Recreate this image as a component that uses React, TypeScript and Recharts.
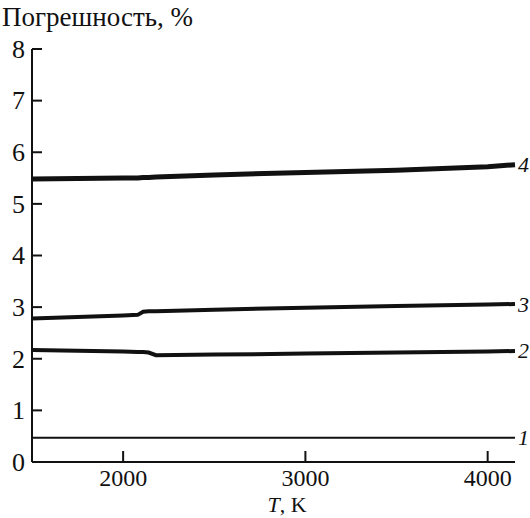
import * as React from 'react';
import { LineChart, Line, XAxis, YAxis, LabelList } from 'recharts';

// температура, K
const temps = [1500, 2000, 2080, 2110, 2140, 2180, 2500, 3000, 3500, 4000, 4150];
// погрешность, % (кривые 1–4)
const err1 = [0.47, 0.47, 0.47, 0.47, 0.47, 0.47, 0.47, 0.47, 0.47, 0.47, 0.47];
const err2 = [2.17, 2.14, 2.13, 2.13, 2.12, 2.07, 2.08, 2.1, 2.12, 2.14, 2.15];
const err3 = [2.78, 2.84, 2.85, 2.91, 2.92, 2.92, 2.95, 2.99, 3.02, 3.05, 3.06];
const err4 = [5.48, 5.5, 5.5, 5.51, 5.51, 5.52, 5.56, 5.61, 5.65, 5.72, 5.76];
const xTicks = [2000, 3000, 4000];
const yTicks = [0, 1, 2, 3, 4, 5, 6, 7, 8];

const data = temps.map((t, i) => ({ t, e1: err1[i], e2: err2[i], e3: err3[i], e4: err4[i] }));

const FONT = 'Liberation Serif, Times New Roman, serif';

const YTick = (props: any) => {
  const { x, y, payload } = props;
  return (
    <g>
      {payload.value !== 0 && <line x1={x + 7} y1={y} x2={x + 17} y2={y} stroke="#111" strokeWidth={2} />}
      <text x={x} y={y} dy="0.34em" textAnchor="end" fontSize={26} fontFamily={FONT} fill="#111">
        {payload.value}
      </text>
    </g>
  );
};

const XTick = (props: any) => {
  const { x, y, payload } = props;
  return (
    <g>
      <line x1={x} y1={y} x2={x} y2={y - 11} stroke="#111" strokeWidth={2} />
      <text x={x} y={y + 24} textAnchor="middle" fontSize={24} fontFamily={FONT} fill="#111">
        {payload.value}
      </text>
    </g>
  );
};

const endLabel = (name: string) => (props: any) => {
  const { x, y, index } = props;
  if (index !== data.length - 1) return null;
  return (
    <text x={x + 3} y={y} dy="0.34em" fontSize={22} fontStyle="italic" fontFamily={FONT} fill="#111">
      {name}
    </text>
  );
};

export default function App() {
  return (
    <div style={{ position: 'absolute', left: 0, top: 0, width: 530, height: 518, background: '#fff' }}>
      <LineChart width={530} height={518} data={data} margin={{ top: 49, right: 15, bottom: 55, left: 31 }}>
        <XAxis
          dataKey="t"
          type="number"
          domain={[1500, 4150]}
          ticks={xTicks}
          height={1}
          tickSize={0}
          tickMargin={0}
          tickLine={false}
          tick={<XTick />}
          axisLine={{ stroke: '#111', strokeWidth: 2 }}
        />
        <YAxis
          type="number"
          domain={[0, 8]}
          ticks={yTicks}
          width={1}
          tickSize={0}
          tickMargin={7}
          tickLine={false}
          tick={<YTick />}
          axisLine={{ stroke: '#111', strokeWidth: 2 }}
        />
        <Line dataKey="e1" type="linear" stroke="#111" strokeWidth={2} dot={false} isAnimationActive={false}>
          <LabelList content={endLabel('1')} />
        </Line>
        <Line dataKey="e2" type="linear" stroke="#111" strokeWidth={4} dot={false} isAnimationActive={false}>
          <LabelList content={endLabel('2')} />
        </Line>
        <Line dataKey="e3" type="linear" stroke="#111" strokeWidth={4} dot={false} isAnimationActive={false}>
          <LabelList content={endLabel('3')} />
        </Line>
        <Line dataKey="e4" type="linear" stroke="#111" strokeWidth={5} dot={false} isAnimationActive={false}>
          <LabelList content={endLabel('4')} />
        </Line>
        <text x={2} y={26} fontSize={27} fontFamily={FONT} fill="#111">
          Погрешность, %
        </text>
        <text x={287} y={512} textAnchor="middle" fontSize={22} fontFamily={FONT} fill="#111">
          <tspan fontStyle="italic">T</tspan>, K
        </text>
      </LineChart>
    </div>
  );
}
